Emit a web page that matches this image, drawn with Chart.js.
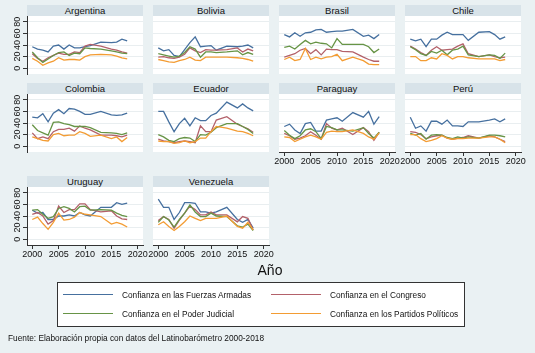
<!DOCTYPE html>
<html><head><meta charset="utf-8">
<script src="https://cdn.jsdelivr.net/npm/chart.js@4.4.0/dist/chart.umd.min.js"></script>
<style>
html,body{margin:0;padding:0;}
body{width:535px;height:353px;background:#eaf1f3;position:relative;overflow:hidden;font-family:"Liberation Sans",Arial,sans-serif;color:#111;}
.hdr{position:absolute;height:11px;background:#d8e3e9;font-size:9.5px;line-height:11px;text-align:center;color:#111;}
canvas{position:absolute;}
.lg-line{position:absolute;height:0;border-top:1.5px solid;}
.lg-text{position:absolute;font-size:8.3px;line-height:10px;white-space:nowrap;}
</style></head>
<body>
<div id="root"></div>
<div style="position:absolute;left:240px;top:262px;width:60px;text-align:center;font-size:14px;line-height:16px;">Año</div>
<div style="position:absolute;left:57px;top:282px;width:406px;height:43px;background:#fff;border:1px solid #333;"></div>
<div id="legend"></div>
<div style="position:absolute;left:8px;top:333px;font-size:8.3px;line-height:10px;white-space:nowrap;">Fuente: Elaboración propia con datos del Latinobarómetro 2000-2018</div>
<script>
const years = [2000,2001,2002,2003,2004,2005,2006,2007,2008,2009,2010,2011,2013,2015,2016,2017,2018];
const countries = ["Argentina","Bolivia","Brasil","Chile","Colombia","Ecuador","Paraguay","Perú","Uruguay","Venezuela"];
const seriesLabels = ["Confianza en las Fuerzas Armadas","Confianza en el Congreso","Confianza en el Poder Judicial","Confianza en los Partidos Políticos"];
const xTickValues = [2000,2005,2010,2015,2020];
const yTickValues = [0,20,40,60,80];

const argentinaFFAA     = [37,33,31,28,38,40,33,40,35,35,37,39,45,44,45,50,47];
const argentinaCongreso = [25,17,12,18,22,26,24,24,28,27,38,41,38,33,31,28,26];
const argentinaJudicial = [28,18,10,16,22,27,28,22,26,25,35,34,33,30,28,26,25];
const argentinaPartidos = [17,12,5,9,12,18,14,15,15,14,20,23,24,23,21,18,16];

const boliviaFFAA     = [35,30,32,22,20,32,44,54,37,38,39,31,38,37,38,40,35];
const boliviaCongreso = [19,20,18,17,19,24,35,30,27,32,31,31,32,35,28,33,30];
const boliviaJudicial = [25,23,21,19,21,27,37,33,19,28,28,27,28,30,23,27,24];
const boliviaPartidos = [15,13,11,10,13,15,19,14,13,19,19,19,19,18,17,15,12];

const brasilFFAA     = [58,54,61,55,61,62,66,67,62,63,64,64,67,55,57,51,58];
const brasilCongreso = [19,22,25,31,34,25,32,23,33,32,32,29,28,19,15,12,12];
const brasilJudicial = [36,38,33,41,48,42,45,43,42,35,51,41,41,41,37,27,33];
const brasilPartidos = [15,19,13,15,34,15,19,16,19,20,24,13,19,13,7,6,6];

const chileFFAA     = [50,47,50,37,50,50,57,62,58,58,58,48,62,63,58,50,54];
const chileCongreso = [38,33,27,22,31,37,31,32,33,38,42,25,20,23,20,18,19];
const chileJudicial = [37,32,25,22,29,26,31,23,31,33,38,23,20,23,22,17,26];
const chilePartidos = [20,20,13,13,18,16,25,22,16,20,20,18,16,16,16,13,15];

const colombiaFFAA     = [50,49,56,42,57,63,56,65,64,60,55,55,60,54,53,54,57];
const colombiaCongreso = [23,13,16,13,25,29,29,31,26,35,31,28,19,19,18,16,19];
const colombiaJudicial = [37,27,23,19,41,42,39,37,34,34,34,32,24,23,22,20,23];
const colombiaPartidos = [16,13,10,9,20,22,18,19,19,25,22,17,19,13,16,8,15];

const ecuadorFFAA     = [60,60,42,25,39,48,35,49,44,44,53,57,76,66,73,66,61];
const ecuadorCongreso = [12,9,8,6,8,9,8,6,35,25,25,45,51,38,34,30,24];
const ecuadorJudicial = [20,16,10,8,13,15,14,8,20,19,24,32,39,39,34,29,22];
const ecuadorPartidos = [9,8,8,5,6,9,6,8,14,14,25,34,31,26,25,22,18];

const paraguayFFAA     = [34,38,28,22,39,41,26,26,45,47,49,43,58,50,60,38,51];
const paraguayCongreso = [22,18,12,14,18,25,19,12,39,31,28,31,20,32,25,10,24];
const paraguayJudicial = [27,19,13,18,28,30,25,13,34,32,28,28,26,32,22,14,24];
const paraguayPartidos = [16,15,8,12,16,19,16,12,24,26,25,25,28,22,16,12,23];

const peruFFAA     = [50,31,35,26,43,43,38,45,35,35,34,42,42,45,47,42,47];
const peruCongreso = [25,24,20,13,16,18,19,14,12,14,15,18,14,18,16,12,8];
const peruJudicial = [22,19,22,12,19,20,19,15,13,16,14,16,14,19,19,18,16];
const peruPartidos = [20,20,13,8,10,13,18,14,12,13,13,14,14,16,16,12,6];

const uruguayFFAA     = [50,45,46,34,34,40,40,42,40,46,42,40,55,55,63,60,62];
const uruguayCongreso = [43,46,40,26,32,57,46,51,51,61,61,51,47,49,40,35,34];
const uruguayJudicial = [50,51,43,36,39,53,56,53,47,56,57,50,51,50,45,41,39];
const uruguayPartidos = [34,38,27,17,29,45,33,34,38,46,43,42,39,26,29,26,21];

const venezuelaFFAA     = [69,55,55,34,46,63,63,62,47,47,45,47,55,34,29,34,19];
const venezuelaCongreso = [32,39,34,19,33,45,57,51,42,42,47,42,42,30,39,36,16];
const venezuelaJudicial = [29,39,33,21,34,45,59,47,39,39,45,40,39,23,21,26,15];
const venezuelaPartidos = [25,30,22,15,22,30,40,36,32,36,36,36,40,22,19,29,16];

const countrySeries = [
  [argentinaFFAA, argentinaCongreso, argentinaJudicial, argentinaPartidos],
  [boliviaFFAA, boliviaCongreso, boliviaJudicial, boliviaPartidos],
  [brasilFFAA, brasilCongreso, brasilJudicial, brasilPartidos],
  [chileFFAA, chileCongreso, chileJudicial, chilePartidos],
  [colombiaFFAA, colombiaCongreso, colombiaJudicial, colombiaPartidos],
  [ecuadorFFAA, ecuadorCongreso, ecuadorJudicial, ecuadorPartidos],
  [paraguayFFAA, paraguayCongreso, paraguayJudicial, paraguayPartidos],
  [peruFFAA, peruCongreso, peruJudicial, peruPartidos],
  [uruguayFFAA, uruguayCongreso, uruguayJudicial, uruguayPartidos],
  [venezuelaFFAA, venezuelaCongreso, venezuelaJudicial, venezuelaPartidos]
];

const colors = ['#46709f','#b3616a','#679446','#f39c33'];
const FONT = '"Liberation Sans", Arial, sans-serif';
const colLeft = [27,153,279,405];
const rowTop = [16,94,187];
const plotW = 116, plotH = 58, hdrH = 11;
const bottomPanels = [6,7,8,9];

const bgPlugin = {
  id:'bg',
  beforeDraw(chart){
    const a = chart.chartArea, c = chart.ctx;
    c.save(); c.fillStyle = '#ffffff';
    c.fillRect(a.left, a.top, a.right - a.left, a.bottom - a.top);
    c.restore();
  }
};

const root = document.getElementById('root');
countries.forEach((name, i) => {
  const row = Math.floor(i/4), col = i % 4;
  const isLeft = col === 0;
  const isBottom = bottomPanels.includes(i);
  const L = colLeft[col], T = rowTop[row];

  const h = document.createElement('div');
  h.className = 'hdr';
  h.style.left = L + 'px'; h.style.top = (T - hdrH) + 'px'; h.style.width = plotW + 'px';
  h.textContent = name;
  root.appendChild(h);

  const padL = isLeft ? 0 : 12, yW = isLeft ? 27 : 0, padR = 12, padT = 4, xH = isBottom ? 18 : 0, padB = 1;
  const cv = document.createElement('canvas');
  const W = padL + yW + plotW + padR, H = padT + plotH + xH + padB;
  cv.width = W; cv.height = H;
  cv.style.left = (L - yW - padL) + 'px'; cv.style.top = (T - padT) + 'px';
  cv.style.width = W + 'px'; cv.style.height = H + 'px';
  root.appendChild(cv);

  new Chart(cv.getContext('2d'), {
    type:'line',
    data:{
      datasets: countrySeries[i].map((arr, k) => ({
        label: seriesLabels[k],
        data: years.map((yr, j) => ({x: yr, y: arr[j]})),
        borderColor: colors[k], backgroundColor: colors[k],
        borderWidth: 1.3, pointRadius: 0, tension: 0, fill: false,
        order: 4 - k
      }))
    },
    options:{
      responsive:false, animation:false, devicePixelRatio:1,
      layout:{padding:{left:padL, right:padR, top:padT, bottom:padB}},
      plugins:{legend:{display:false}, tooltip:{enabled:false}, title:{display:false}},
      scales:{
        x:{
          type:'linear', min:1999, max:2021, display:isBottom,
          afterBuildTicks: s => { s.ticks = xTickValues.map(v => ({value:v})); },
          afterFit: s => { s.height = xH; s.paddingLeft = 0; s.paddingRight = 0; },
          grid:{display:true, drawOnChartArea:false, drawTicks:true, tickLength:4, tickColor:'#333', color:'#333'},
          border:{display:true, color:'#333', width:1},
          ticks:{autoSkip:false, maxRotation:0, minRotation:0, padding:0, font:{size:9, family:FONT}, color:'#111',
                 callback: v => String(v)}
        },
        y:{
          type:'linear', min:-10, max:90, display:true,
          afterBuildTicks: s => { s.ticks = yTickValues.map(v => ({value:v})); },
          afterFit: s => { s.width = yW; s.paddingTop = 0; s.paddingBottom = 0; },
          grid:{color:'#e9eef0', lineWidth:1, drawTicks:isLeft, tickLength:4, tickColor:'#333'},
          border:{display:isLeft, color:'#333', width:1},
          ticks:{display:isLeft, autoSkip:false, minRotation:90, maxRotation:90, crossAlign:'center', padding:0, font:{size:9, family:FONT}, color:'#111',
                 callback: v => String(v)}
        }
      }
    },
    plugins:[bgPlugin]
  });
});

const lg = document.getElementById('legend');
const lgPos = [[63,295],[271,295],[63,314],[271,314]];
seriesLabels.forEach((lab, k) => {
  const [x, y] = lgPos[k];
  const ln = document.createElement('div');
  ln.className = 'lg-line';
  ln.style.left = x + 'px'; ln.style.top = (y - 1) + 'px'; ln.style.width = '50px';
  ln.style.borderTopColor = colors[k];
  lg.appendChild(ln);
  const tx = document.createElement('div');
  tx.className = 'lg-text';
  tx.style.left = (x + 59) + 'px'; tx.style.top = (y - 5) + 'px';
  tx.textContent = lab;
  lg.appendChild(tx);
});
</script>
</body></html>
